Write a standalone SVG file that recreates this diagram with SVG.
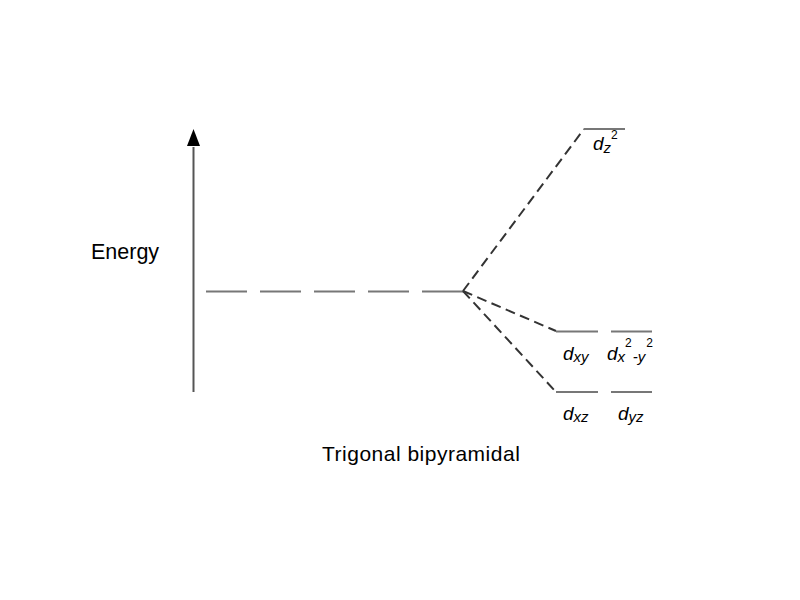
<svg xmlns="http://www.w3.org/2000/svg" width="800" height="600" viewBox="0 0 800 600">
<style>
.lbl{font-family:"Liberation Sans",Arial,sans-serif;fill:#000}
.d{font-family:"Liberation Sans",Arial,sans-serif;font-style:italic;font-size:19px;fill:#000}
.sb{font-size:15px}
.sp{font-size:12px;font-style:normal}
.lvl{stroke:#777;stroke-width:2;fill:none}
.dia{stroke:#333;stroke-width:2;fill:none;stroke-dasharray:10 5.5}
</style>
<rect width="800" height="600" fill="#fff"/>
<g id="axis">
<line x1="193.5" y1="392" x2="193.5" y2="147" stroke="#555" stroke-width="2"/>
<path d="M193.5,129 L200,146 L187,146 Z" fill="#000"/>
<text class="lbl" x="91" y="258.5" font-size="21.5">Energy</text>
</g>
<g id="connectors">
<line x1="206" y1="291.5" x2="463" y2="291.5" stroke="#777" stroke-width="2" stroke-dasharray="41 13"/>
<line class="dia" x1="463" y1="291" x2="584" y2="129"/>
<line class="dia" x1="463" y1="291" x2="556" y2="331"/>
<line class="dia" x1="463" y1="291" x2="556" y2="392"/>
</g>
<g id="dz2">
<line class="lvl" x1="584" y1="129" x2="625" y2="129"/>
<text class="d" x="593" y="150">d<tspan class="sb" dy="3">z</tspan><tspan class="sp" dy="-14">2</tspan></text>
</g>
<g id="dxy">
<line class="lvl" x1="556" y1="331.5" x2="598" y2="331.5"/>
<text class="d" x="563" y="360">d<tspan class="sb" dy="2">xy</tspan></text>
</g>
<g id="dx2y2">
<line class="lvl" x1="611" y1="331.5" x2="652" y2="331.5"/>
<text class="d" x="607" y="360">d<tspan class="sb" dy="2">x</tspan><tspan class="sp" dy="-15">2</tspan><tspan class="sb" dy="15" dx="1">-y</tspan><tspan class="sp" dy="-15" dx="1">2</tspan></text>
</g>
<g id="dxz">
<line class="lvl" x1="556" y1="392" x2="598" y2="392"/>
<text class="d" x="563" y="420">d<tspan class="sb" dy="2">xz</tspan></text>
</g>
<g id="dyz">
<line class="lvl" x1="611" y1="392" x2="652" y2="392"/>
<text class="d" x="618" y="420">d<tspan class="sb" dy="2">yz</tspan></text>
</g>
<g id="title">
<text class="lbl" x="322" y="461" font-size="21" letter-spacing="0.5">Trigonal bipyramidal</text>
</g>
</svg>
